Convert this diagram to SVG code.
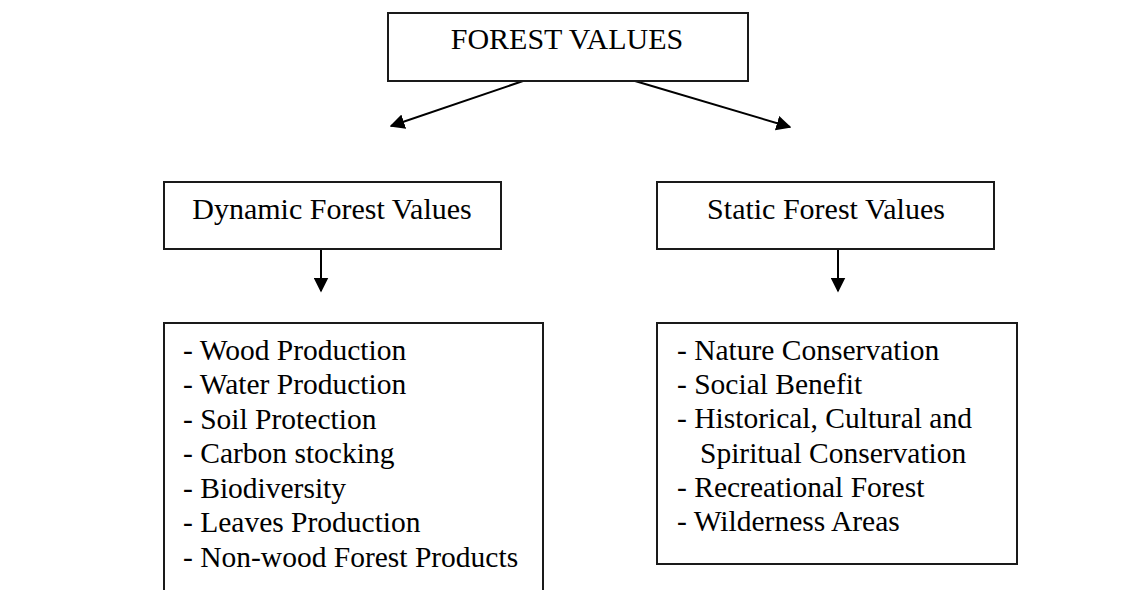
<svg xmlns="http://www.w3.org/2000/svg" width="1140" height="590" viewBox="0 0 1140 590">
<defs>
<style>
.box{fill:#fff;stroke:#1a1a1a;stroke-width:2}
.t{font-family:"Liberation Serif","Times New Roman",serif;font-size:29.5px;fill:#000}
.h{font-size:30px}
.c{stroke:#000;stroke-width:2;fill:none}
</style>
<marker id="ah2" viewBox="0 0 10 10" refX="9" refY="5" markerWidth="15" markerHeight="15" markerUnits="userSpaceOnUse" orient="auto">
<path d="M0,0 L10,5 L0,10 z" fill="#000"/>
</marker>
</defs>
<rect width="1140" height="590" fill="#fff"/>
<g id="connectors">
<line class="c" x1="523" y1="81" x2="391" y2="126" marker-end="url(#ah2)"/>
<line class="c" x1="635" y1="81" x2="790" y2="127" marker-end="url(#ah2)"/>
<line class="c" x1="321" y1="248" x2="321" y2="291" marker-end="url(#ah2)"/>
<line class="c" x1="838" y1="248" x2="838" y2="291" marker-end="url(#ah2)"/>
</g>
<g id="forest-values">
<rect class="box" x="388" y="13" width="360" height="68"/>
<text class="t h" x="567" y="49" text-anchor="middle">FOREST VALUES</text>
</g>
<g id="dynamic">
<rect class="box" x="164" y="182" width="337" height="67"/>
<text class="t h" x="332" y="219" text-anchor="middle">Dynamic Forest Values</text>
</g>
<g id="static">
<rect class="box" x="657" y="182" width="337" height="67"/>
<text class="t h" x="826" y="219" text-anchor="middle">Static Forest Values</text>
</g>
<g id="dynamic-list">
<rect class="box" x="164" y="323" width="379" height="290"/>
<text class="t" x="183" y="360">- Wood Production</text>
<text class="t" x="183" y="394">- Water Production</text>
<text class="t" x="183" y="429">- Soil Protection</text>
<text class="t" x="183" y="463">- Carbon stocking</text>
<text class="t" x="183" y="498">- Biodiversity</text>
<text class="t" x="183" y="532">- Leaves Production</text>
<text class="t" x="183" y="567">- Non-wood Forest Products</text>
</g>
<g id="static-list">
<rect class="box" x="657" y="323" width="360" height="241"/>
<text class="t" x="677" y="360">- Nature Conservation</text>
<text class="t" x="677" y="394">- Social Benefit</text>
<text class="t" x="677" y="428">- Historical, Cultural and</text>
<text class="t" x="700" y="463">Spiritual Conservation</text>
<text class="t" x="677" y="497">- Recreational Forest</text>
<text class="t" x="677" y="531">- Wilderness Areas</text>
</g>
</svg>
